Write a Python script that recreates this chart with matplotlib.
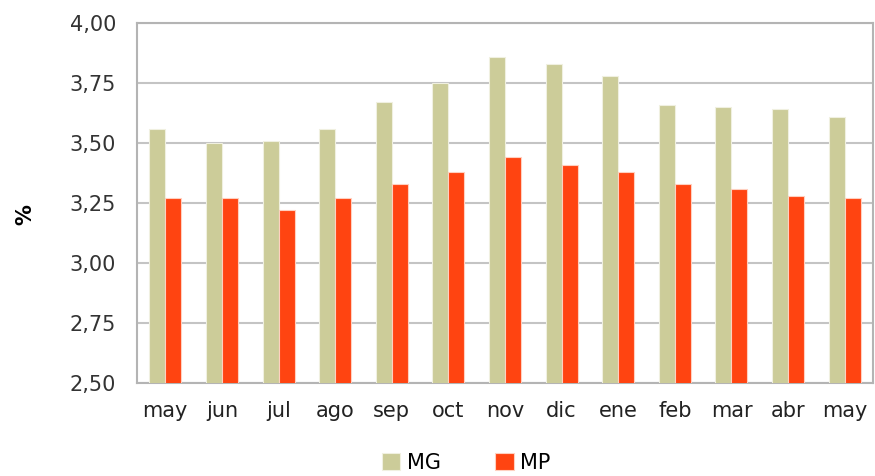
import numpy as np
import matplotlib.pyplot as plt

months = ['may', 'jun', 'jul', 'ago', 'sep', 'oct', 'nov', 'dic',
          'ene', 'feb', 'mar', 'abr', 'may']
mg = [3.56, 3.50, 3.51, 3.56, 3.67, 3.75, 3.86, 3.83, 3.78, 3.66, 3.65, 3.64, 3.61]
mp = [3.27, 3.27, 3.22, 3.27, 3.33, 3.38, 3.44, 3.41, 3.38, 3.33, 3.31, 3.28, 3.27]

plt.rcParams['font.family'] = ['DejaVu Sans']

fig = plt.figure(figsize=(8.75, 4.76), dpi=100)
ax = fig.add_axes([137/875, 1-383/476, 736/875, 360/476])

x = np.arange(len(months))
w = 0.283
ax.bar(x - w/2, mg, w, color='#CCCC99', edgecolor='#F0F0E0', linewidth=0.8, label='MG', zorder=3)
ax.bar(x + w/2, mp, w, color='#FF4411', edgecolor='#FFD0C0', linewidth=0.8, label='MP', zorder=3)

ax.set_xlim(-0.5, len(months) - 0.5)
ax.set_ylim(2.5, 4.0)
yt = np.arange(2.5, 4.01, 0.25)
ax.set_yticks(yt)
ax.set_yticklabels([f'{v:.2f}'.replace('.', ',') for v in yt], fontsize=15, color='#333333')
ax.set_xticks(x)
ax.set_xticklabels(months, fontsize=15, color='#222222')
ax.tick_params(axis='y', length=0, pad=15)
ax.tick_params(axis='x', length=0, pad=13)
ax.grid(axis='y', color='#C4C4C4', linewidth=1.5, zorder=0)
for s in ax.spines.values():
    s.set_color('#B4B4B4')
    s.set_linewidth(1.5)

fig.text(25/875, 1-215/476, '%', rotation=90, fontsize=15, fontweight='bold',
         ha='center', va='center')

ax.legend(loc='center', bbox_to_anchor=((466-137)/736, (383-463)/360), ncol=2, frameon=False,
          fontsize=15, handlelength=0.9, handleheight=0.9, columnspacing=2.6,
          handletextpad=0.3, borderaxespad=0, borderpad=0)

fig.savefig('out.png', dpi=100)
